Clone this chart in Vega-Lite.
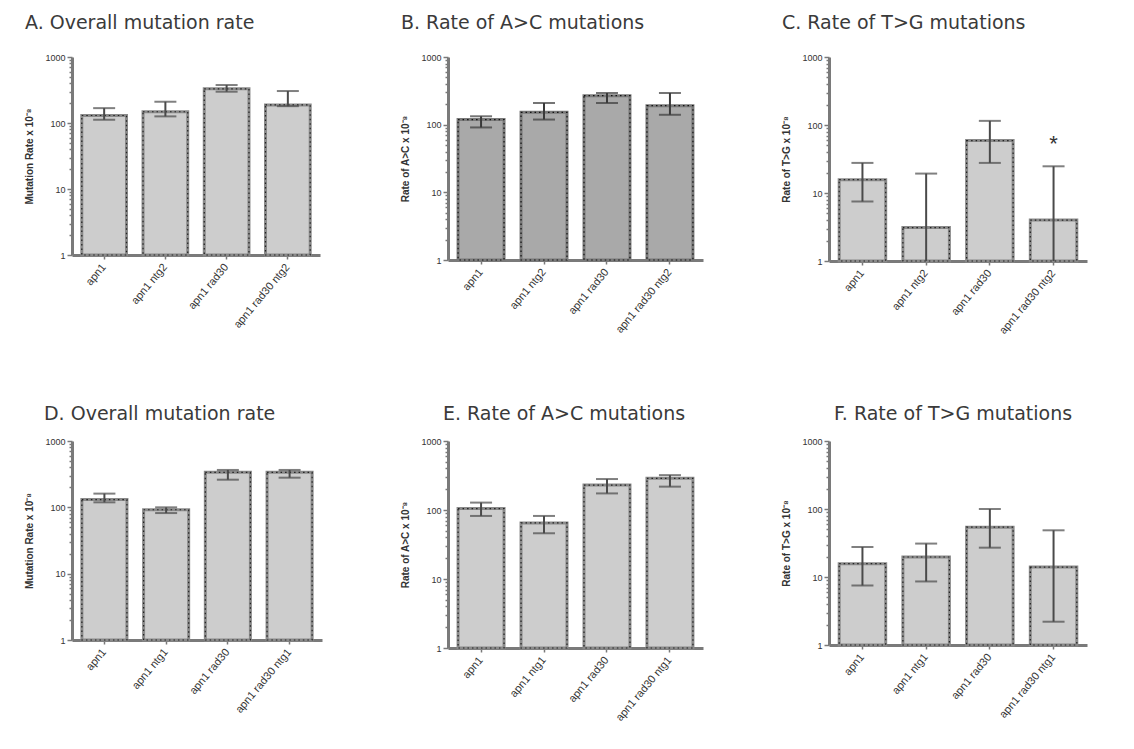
{
  "$schema": "https://vega.github.io/schema/vega-lite/v6.json",
  "background": "white",
  "padding": {"left": 24, "top": 14, "right": 5, "bottom": 5},
  "spacing": {"row": 69, "column": 78},
  "columns": 3,
  "datasets": {
    "d": [
      {"panel": "A", "genotype": "apn1", "order": 1, "rate": 130, "lo": 112, "hi": 168},
      {"panel": "A", "genotype": "apn1 ntg2", "order": 2, "rate": 148, "lo": 126, "hi": 210},
      {"panel": "A", "genotype": "apn1 rad30", "order": 3, "rate": 330, "lo": 298, "hi": 376},
      {"panel": "A", "genotype": "apn1 rad30 ntg2", "order": 4, "rate": 188, "lo": 180, "hi": 305},
      {"panel": "B", "genotype": "apn1", "order": 1, "rate": 119, "lo": 91, "hi": 133},
      {"panel": "B", "genotype": "apn1 ntg2", "order": 2, "rate": 152, "lo": 119, "hi": 209},
      {"panel": "B", "genotype": "apn1 rad30", "order": 3, "rate": 268, "lo": 209, "hi": 294},
      {"panel": "B", "genotype": "apn1 rad30 ntg2", "order": 4, "rate": 191, "lo": 140, "hi": 294},
      {"panel": "C", "genotype": "apn1", "order": 1, "rate": 15.7, "lo": 7.5, "hi": 27.7},
      {"panel": "C", "genotype": "apn1 ntg2", "order": 2, "rate": 3.1, "lo": 1, "hi": 19.3},
      {"panel": "C", "genotype": "apn1 rad30", "order": 3, "rate": 59, "lo": 27.7, "hi": 115},
      {"panel": "C", "genotype": "apn1 rad30 ntg2", "order": 4, "rate": 4.0, "lo": 1, "hi": 24.7, "sig": "*"},
      {"panel": "D", "genotype": "apn1", "order": 1, "rate": 131, "lo": 119, "hi": 161},
      {"panel": "D", "genotype": "apn1 ntg1", "order": 2, "rate": 92, "lo": 82, "hi": 100},
      {"panel": "D", "genotype": "apn1 rad30", "order": 3, "rate": 337, "lo": 261, "hi": 366},
      {"panel": "D", "genotype": "apn1 rad30 ntg1", "order": 4, "rate": 337, "lo": 280, "hi": 366},
      {"panel": "E", "genotype": "apn1", "order": 1, "rate": 105, "lo": 82, "hi": 128},
      {"panel": "E", "genotype": "apn1 ntg1", "order": 2, "rate": 65, "lo": 46, "hi": 82},
      {"panel": "E", "genotype": "apn1 rad30", "order": 3, "rate": 230, "lo": 174, "hi": 281},
      {"panel": "E", "genotype": "apn1 rad30 ntg1", "order": 4, "rate": 288, "lo": 218, "hi": 320},
      {"panel": "F", "genotype": "apn1", "order": 1, "rate": 15.7, "lo": 7.5, "hi": 27.6},
      {"panel": "F", "genotype": "apn1 ntg1", "order": 2, "rate": 19.7, "lo": 8.6, "hi": 31},
      {"panel": "F", "genotype": "apn1 rad30", "order": 3, "rate": 54, "lo": 27, "hi": 100},
      {"panel": "F", "genotype": "apn1 rad30 ntg1", "order": 4, "rate": 14, "lo": 2.2, "hi": 48.6}
    ]
  },
  "config": {
    "view": {"stroke": null},
    "font": "Liberation Sans",
    "axis": {
      "grid": false,
      "domainColor": "#7a7a7a",
      "domainWidth": 3,
      "tickColor": "#7a7a7a",
      "tickWidth": 1.5,
      "labelFont": "Liberation Sans",
      "labelFontSize": 9,
      "labelColor": "#333333",
      "titleFont": "Liberation Sans",
      "titleFontSize": 10,
      "titleFontWeight": "bold",
      "titleColor": "#333333"
    },
    "axisX": {"labelAngle": -50, "labelFontSize": 11, "tickSize": 4, "title": null, "labelPadding": 6},
    "axisY": {
      "values": [1,2,3,4,5,6,7,8,9,10,20,30,40,50,60,70,80,90,100,200,300,400,500,600,700,800,900,1000],
      "labelExpr": "(datum.value==1||datum.value==10||datum.value==100||datum.value==1000) ? datum.label : ''",
      "labelOverlap": false,
      "format": "d",
      "tickSize": {"condition": {"test": "datum.value==1||datum.value==10||datum.value==100||datum.value==1000", "value": 5}, "value": 3},
      "titlePadding": 10
    },
    "title": {"anchor": "start", "frame": "bounds", "fontSize": 19, "fontWeight": "normal", "font": "DejaVu Sans", "color": "#3a3a3a", "offset": 20}
  },
  "concat": [
    {
      "title": {"text": "A. Overall mutation rate"},
      "width": 248, "height": 198,
      "data": {"name": "d"},
      "transform": [{"filter": "datum.panel == 'A'"}],
      "encoding": {
        "x": {"field": "genotype", "type": "nominal", "sort": {"field": "order"}, "scale": {"paddingInner": 0.27, "paddingOuter": 0.16}}
      },
      "layer": [
        {"mark": {"type": "bar", "fill": "#cdcdcd", "stroke": "#8a8a8a", "strokeWidth": 3},
         "encoding": {"y": {"field": "rate", "type": "quantitative", "scale": {"type": "log", "domain": [1, 1000]}, "title": "Mutation Rate x 10⁻⁸"}, "y2": {"datum": 1}}},
        {"mark": {"type": "bar", "fill": null, "stroke": "#222222", "strokeWidth": 1.2, "strokeDash": [1.5, 3]},
         "encoding": {"y": {"field": "rate", "type": "quantitative"}, "y2": {"datum": 1}}},
        {"mark": {"type": "rule", "color": "#4a4a4a", "strokeWidth": 2},
         "encoding": {"y": {"field": "lo", "type": "quantitative"}, "y2": {"field": "hi"}}},
        {"mark": {"type": "tick", "color": "#4a4a4a", "thickness": 2, "size": 22},
         "encoding": {"y": {"field": "hi", "type": "quantitative"}}},
        {"mark": {"type": "tick", "color": "#4a4a4a", "thickness": 2, "size": 22},
         "encoding": {"y": {"field": "lo", "type": "quantitative"}}}
      ]
    },
    {
      "title": {"text": "B. Rate of A>C mutations"},
      "width": 255, "height": 203,
      "data": {"name": "d"},
      "transform": [{"filter": "datum.panel == 'B'"}],
      "encoding": {
        "x": {"field": "genotype", "type": "nominal", "sort": {"field": "order"}, "scale": {"paddingInner": 0.27, "paddingOuter": 0.16}}
      },
      "layer": [
        {"mark": {"type": "bar", "fill": "#a9a9a9", "stroke": "#7a7a7a", "strokeWidth": 3},
         "encoding": {"y": {"field": "rate", "type": "quantitative", "scale": {"type": "log", "domain": [1, 1000]}, "title": "Rate of A>C x 10⁻⁸"}, "y2": {"datum": 1}}},
        {"mark": {"type": "bar", "fill": null, "stroke": "#111111", "strokeWidth": 1.2, "strokeDash": [1.5, 3]},
         "encoding": {"y": {"field": "rate", "type": "quantitative"}, "y2": {"datum": 1}}},
        {"mark": {"type": "rule", "color": "#3a3a3a", "strokeWidth": 2},
         "encoding": {"y": {"field": "lo", "type": "quantitative"}, "y2": {"field": "hi"}}},
        {"mark": {"type": "tick", "color": "#3a3a3a", "thickness": 2, "size": 22},
         "encoding": {"y": {"field": "hi", "type": "quantitative"}}},
        {"mark": {"type": "tick", "color": "#3a3a3a", "thickness": 2, "size": 22},
         "encoding": {"y": {"field": "lo", "type": "quantitative"}}}
      ]
    },
    {
      "title": {"text": "C. Rate of T>G mutations"},
      "width": 258, "height": 204,
      "data": {"name": "d"},
      "transform": [{"filter": "datum.panel == 'C'"}],
      "encoding": {
        "x": {"field": "genotype", "type": "nominal", "sort": {"field": "order"}, "scale": {"paddingInner": 0.27, "paddingOuter": 0.16}}
      },
      "layer": [
        {"mark": {"type": "bar", "fill": "#cdcdcd", "stroke": "#8a8a8a", "strokeWidth": 3},
         "encoding": {"y": {"field": "rate", "type": "quantitative", "scale": {"type": "log", "domain": [1, 1000]}, "title": "Rate of T>G x 10⁻⁸"}, "y2": {"datum": 1}}},
        {"mark": {"type": "bar", "fill": null, "stroke": "#222222", "strokeWidth": 1.2, "strokeDash": [1.5, 3]},
         "encoding": {"y": {"field": "rate", "type": "quantitative"}, "y2": {"datum": 1}}},
        {"mark": {"type": "rule", "color": "#4a4a4a", "strokeWidth": 2},
         "encoding": {"y": {"field": "lo", "type": "quantitative"}, "y2": {"field": "hi"}}},
        {"mark": {"type": "tick", "color": "#4a4a4a", "thickness": 2, "size": 22},
         "encoding": {"y": {"field": "hi", "type": "quantitative"}}},
        {"mark": {"type": "tick", "color": "#4a4a4a", "thickness": 2, "size": 22},
         "transform": [{"filter": "datum.lo > 1"}],
         "encoding": {"y": {"field": "lo", "type": "quantitative"}}},
        {"mark": {"type": "text", "fontSize": 22, "color": "#333333", "dy": -10, "baseline": "bottom"},
         "transform": [{"filter": "datum.sig != null"}],
         "encoding": {"y": {"field": "hi", "type": "quantitative"}, "text": {"field": "sig"}}}
      ]
    },
    {
      "title": {"text": "D. Overall mutation rate", "dx": 19, "dy": 7},
      "width": 250, "height": 199,
      "data": {"name": "d"},
      "transform": [{"filter": "datum.panel == 'D'"}],
      "encoding": {
        "x": {"field": "genotype", "type": "nominal", "sort": {"field": "order"}, "scale": {"paddingInner": 0.27, "paddingOuter": 0.16}}
      },
      "layer": [
        {"mark": {"type": "bar", "fill": "#cdcdcd", "stroke": "#8a8a8a", "strokeWidth": 3},
         "encoding": {"y": {"field": "rate", "type": "quantitative", "scale": {"type": "log", "domain": [1, 1000]}, "title": "Mutation Rate x 10⁻⁸"}, "y2": {"datum": 1}}},
        {"mark": {"type": "bar", "fill": null, "stroke": "#222222", "strokeWidth": 1.2, "strokeDash": [1.5, 3]},
         "encoding": {"y": {"field": "rate", "type": "quantitative"}, "y2": {"datum": 1}}},
        {"mark": {"type": "rule", "color": "#4a4a4a", "strokeWidth": 2},
         "encoding": {"y": {"field": "lo", "type": "quantitative"}, "y2": {"field": "hi"}}},
        {"mark": {"type": "tick", "color": "#4a4a4a", "thickness": 2, "size": 22},
         "encoding": {"y": {"field": "hi", "type": "quantitative"}}},
        {"mark": {"type": "tick", "color": "#4a4a4a", "thickness": 2, "size": 22},
         "encoding": {"y": {"field": "lo", "type": "quantitative"}}}
      ]
    },
    {
      "title": {"text": "E. Rate of A>C mutations", "dx": 42, "dy": 7},
      "width": 255, "height": 207,
      "data": {"name": "d"},
      "transform": [{"filter": "datum.panel == 'E'"}],
      "encoding": {
        "x": {"field": "genotype", "type": "nominal", "sort": {"field": "order"}, "scale": {"paddingInner": 0.27, "paddingOuter": 0.16}}
      },
      "layer": [
        {"mark": {"type": "bar", "fill": "#cdcdcd", "stroke": "#8a8a8a", "strokeWidth": 3},
         "encoding": {"y": {"field": "rate", "type": "quantitative", "scale": {"type": "log", "domain": [1, 1000]}, "title": "Rate of A>C x 10⁻⁸"}, "y2": {"datum": 1}}},
        {"mark": {"type": "bar", "fill": null, "stroke": "#222222", "strokeWidth": 1.2, "strokeDash": [1.5, 3]},
         "encoding": {"y": {"field": "rate", "type": "quantitative"}, "y2": {"datum": 1}}},
        {"mark": {"type": "rule", "color": "#4a4a4a", "strokeWidth": 2},
         "encoding": {"y": {"field": "lo", "type": "quantitative"}, "y2": {"field": "hi"}}},
        {"mark": {"type": "tick", "color": "#4a4a4a", "thickness": 2, "size": 22},
         "encoding": {"y": {"field": "hi", "type": "quantitative"}}},
        {"mark": {"type": "tick", "color": "#4a4a4a", "thickness": 2, "size": 22},
         "encoding": {"y": {"field": "lo", "type": "quantitative"}}}
      ]
    },
    {
      "title": {"text": "F. Rate of T>G mutations", "dx": 52, "dy": 7},
      "width": 258, "height": 204,
      "data": {"name": "d"},
      "transform": [{"filter": "datum.panel == 'F'"}],
      "encoding": {
        "x": {"field": "genotype", "type": "nominal", "sort": {"field": "order"}, "scale": {"paddingInner": 0.27, "paddingOuter": 0.16}}
      },
      "layer": [
        {"mark": {"type": "bar", "fill": "#cdcdcd", "stroke": "#8a8a8a", "strokeWidth": 3},
         "encoding": {"y": {"field": "rate", "type": "quantitative", "scale": {"type": "log", "domain": [1, 1000]}, "title": "Rate of T>G x 10⁻⁸"}, "y2": {"datum": 1}}},
        {"mark": {"type": "bar", "fill": null, "stroke": "#222222", "strokeWidth": 1.2, "strokeDash": [1.5, 3]},
         "encoding": {"y": {"field": "rate", "type": "quantitative"}, "y2": {"datum": 1}}},
        {"mark": {"type": "rule", "color": "#4a4a4a", "strokeWidth": 2},
         "encoding": {"y": {"field": "lo", "type": "quantitative"}, "y2": {"field": "hi"}}},
        {"mark": {"type": "tick", "color": "#4a4a4a", "thickness": 2, "size": 22},
         "encoding": {"y": {"field": "hi", "type": "quantitative"}}},
        {"mark": {"type": "tick", "color": "#4a4a4a", "thickness": 2, "size": 22},
         "encoding": {"y": {"field": "lo", "type": "quantitative"}}}
      ]
    }
  ]
}
